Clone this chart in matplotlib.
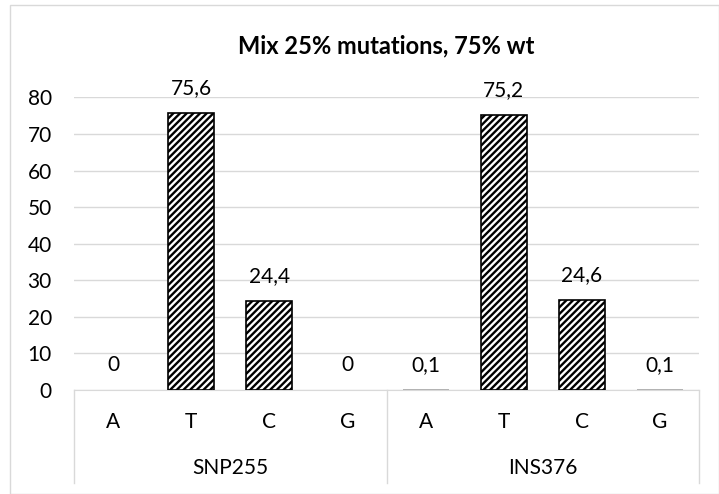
import numpy as np
import matplotlib
matplotlib.use('Agg')
import matplotlib.pyplot as plt
from matplotlib.patches import Rectangle

plt.rcParams['font.family'] = ['Lato', 'DejaVu Sans']
plt.rcParams['hatch.linewidth'] = 1.7

## the data
groups = ['SNP255', 'INS376']
bases = ['A', 'T', 'C', 'G']
values = [0, 75.6, 24.4, 0, 0.1, 75.2, 24.6, 0.1]
value_labels = ['0', '75,6', '24,4', '0', '0,1', '75,2', '24,6', '0,1']

fig = plt.figure(figsize=(7.19, 4.94), dpi=100)
ax = fig.add_axes([74/719, 104/494, 625/719, 292.6/494])

ind = np.arange(len(values))
width = 0.59

bars = ax.bar(ind, values, width, color='white', edgecolor='black',
              linewidth=1.2, hatch='/////', zorder=3)
for b, v in zip(bars, values):
    if v == 0:
        b.set_visible(False)
    elif v < 1:
        b.set_edgecolor('#a6a6a6')

# labels above bars
for x, v, lab in zip(ind, values, value_labels):
    ax.annotate(lab, (x, v), xytext=(0, 25), textcoords='offset pixels',
                ha='center', va='center', fontsize=15, annotation_clip=False)

ax.set_xlim(-0.5, len(values) - 0.5)
ax.set_ylim(0, 80)
ax.set_yticks(np.arange(0, 81, 10))
ax.yaxis.grid(True, color='#d9d9d9', linewidth=1)
ax.set_axisbelow(True)
ax.tick_params(axis='y', length=0, pad=16, labelsize=15)
ax.set_xticks([])
for s in ['top', 'right', 'left']:
    ax.spines[s].set_visible(False)
ax.spines['bottom'].set_color('#d9d9d9')

# two level category axis
trans = ax.get_xaxis_transform()
low = -93 / 292.6
for xs in [-0.5, 3.5, 7.5]:
    ax.plot([xs, xs], [0, low], color='#d9d9d9', linewidth=1,
            transform=trans, clip_on=False)
for i in ind:
    ax.text(i, -32 / 292.6, bases[i % 4], transform=trans,
            ha='center', va='center', fontsize=15)
for g, name in enumerate(groups):
    ax.text(g * 4 + 1.5, -78 / 292.6, name, transform=trans,
            ha='center', va='center', fontsize=15)

ax.set_title('Mix 25% mutations, 75% wt', fontsize=17, fontweight='bold',
             pad=32)

# chart frame
fig.patches.append(Rectangle((10/719, 0), 709/719, 489/494,
                             transform=fig.transFigure, fill=False,
                             edgecolor='#d9d9d9', linewidth=1))

fig.savefig('out.png', dpi=100)
